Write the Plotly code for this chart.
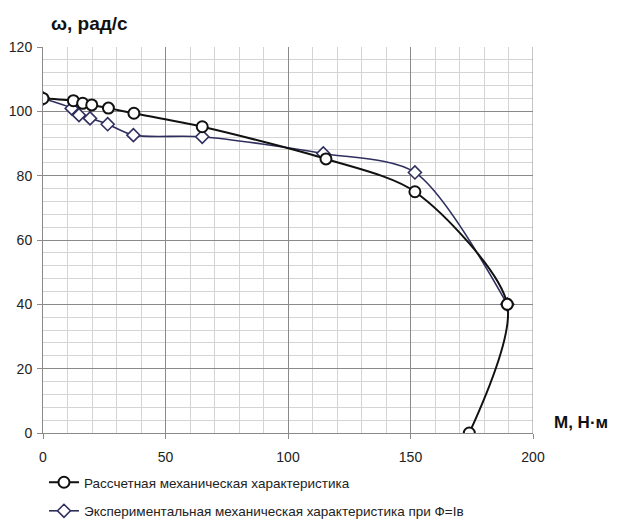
import plotly.graph_objects as go

# Calculated mechanical characteristic (circles)
calc_M = [0, 12.4, 16.2, 19.9, 26.7, 37.1, 65.0, 115.5, 151.8, 189.5, 174.0]
calc_w = [104, 103.3, 102.5, 102.0, 101.0, 99.4, 95.2, 85.2, 75.0, 40.0, 0.0]

# Experimental mechanical characteristic (diamonds)
exp_M = [0, 11.7, 14.7, 19.2, 26.4, 36.9, 65.0, 114.4, 151.8, 189.5]
exp_w = [104, 100.9, 98.8, 97.8, 96.0, 92.6, 92.1, 86.9, 81.0, 40.0]

name_calc = "Рассчетная механическая характеристика"
name_exp = "Экспериментальная механическая характеристика при Ф=Iв"

x_ticks = [0, 50, 100, 150, 200]
y_ticks = [0, 20, 40, 60, 80, 100, 120]

fig = go.Figure()
fig.add_trace(go.Scatter(
    x=exp_M, y=exp_w, name=name_exp, mode="lines+markers",
    line=dict(color="#2f2f5f", width=1.6, shape="spline", smoothing=0.8),
    marker=dict(symbol="diamond", size=10, color="white", line=dict(color="#2f2f5f", width=1.6)),
    legendgroup="b", legendrank=2,
))
fig.add_trace(go.Scatter(
    x=calc_M, y=calc_w, name=name_calc, mode="lines+markers",
    line=dict(color="#111111", width=2, shape="spline", smoothing=0.8),
    marker=dict(symbol="circle", size=11, color="white", line=dict(color="#111111", width=2)),
    legendgroup="a", legendrank=1,
))

# page body has an 8px margin, so the figure is sized/offset to compensate
fig.update_layout(
    width=610, height=513,
    margin=dict(l=35, r=85, t=39, b=88, autoexpand=False),
    paper_bgcolor="white", plot_bgcolor="white",
    font=dict(family="Liberation Sans, Arial, sans-serif", size=12, color="#222222"),
    showlegend=True,
    legend=dict(
        x=0.002, xanchor="left", y=-0.088, yanchor="top",
        font=dict(size=13.5, color="#222222"),
        traceorder="grouped", tracegroupgap=8,
        bgcolor="rgba(0,0,0,0)",
    ),
    xaxis=dict(
        range=[0, 200], tickvals=x_ticks, showgrid=True, gridcolor="#8a8a8a", gridwidth=1,
        zeroline=False, showline=True, linecolor="#8a8a8a", mirror=False,
        ticks="outside", ticklen=5, tickcolor="#8a8a8a", ticklabelstandoff=6,
        minor=dict(dtick=10, showgrid=True, gridcolor="#d4d4d4", gridwidth=1),
        tickfont=dict(size=14), automargin=False,
    ),
    yaxis=dict(
        range=[0, 120], tickvals=y_ticks, showgrid=True, gridcolor="#8a8a8a", gridwidth=1,
        zeroline=False, showline=True, linecolor="#8a8a8a",
        ticks="outside", ticklen=5, tickcolor="#8a8a8a", ticklabelstandoff=2,
        minor=dict(dtick=4, showgrid=True, gridcolor="#d4d4d4", gridwidth=1),
        tickfont=dict(size=14), automargin=False,
    ),
    annotations=[
        dict(text="<b>ω, рад/с</b>", xref="paper", yref="paper", x=0.012, y=1.062,
             xanchor="left", yanchor="middle", showarrow=False, font=dict(size=19, color="#111111")),
        dict(text="<b>М, Н·м</b>", xref="paper", yref="paper", x=1.038, y=0.027,
             xanchor="left", yanchor="middle", showarrow=False, font=dict(size=17, color="#111111")),
    ],
)
# right border line at x=200
fig.add_shape(type="line", xref="x", yref="paper", x0=200, x1=200, y0=0, y1=1,
              line=dict(color="#8a8a8a", width=1))

fig.write_html("out.html")
